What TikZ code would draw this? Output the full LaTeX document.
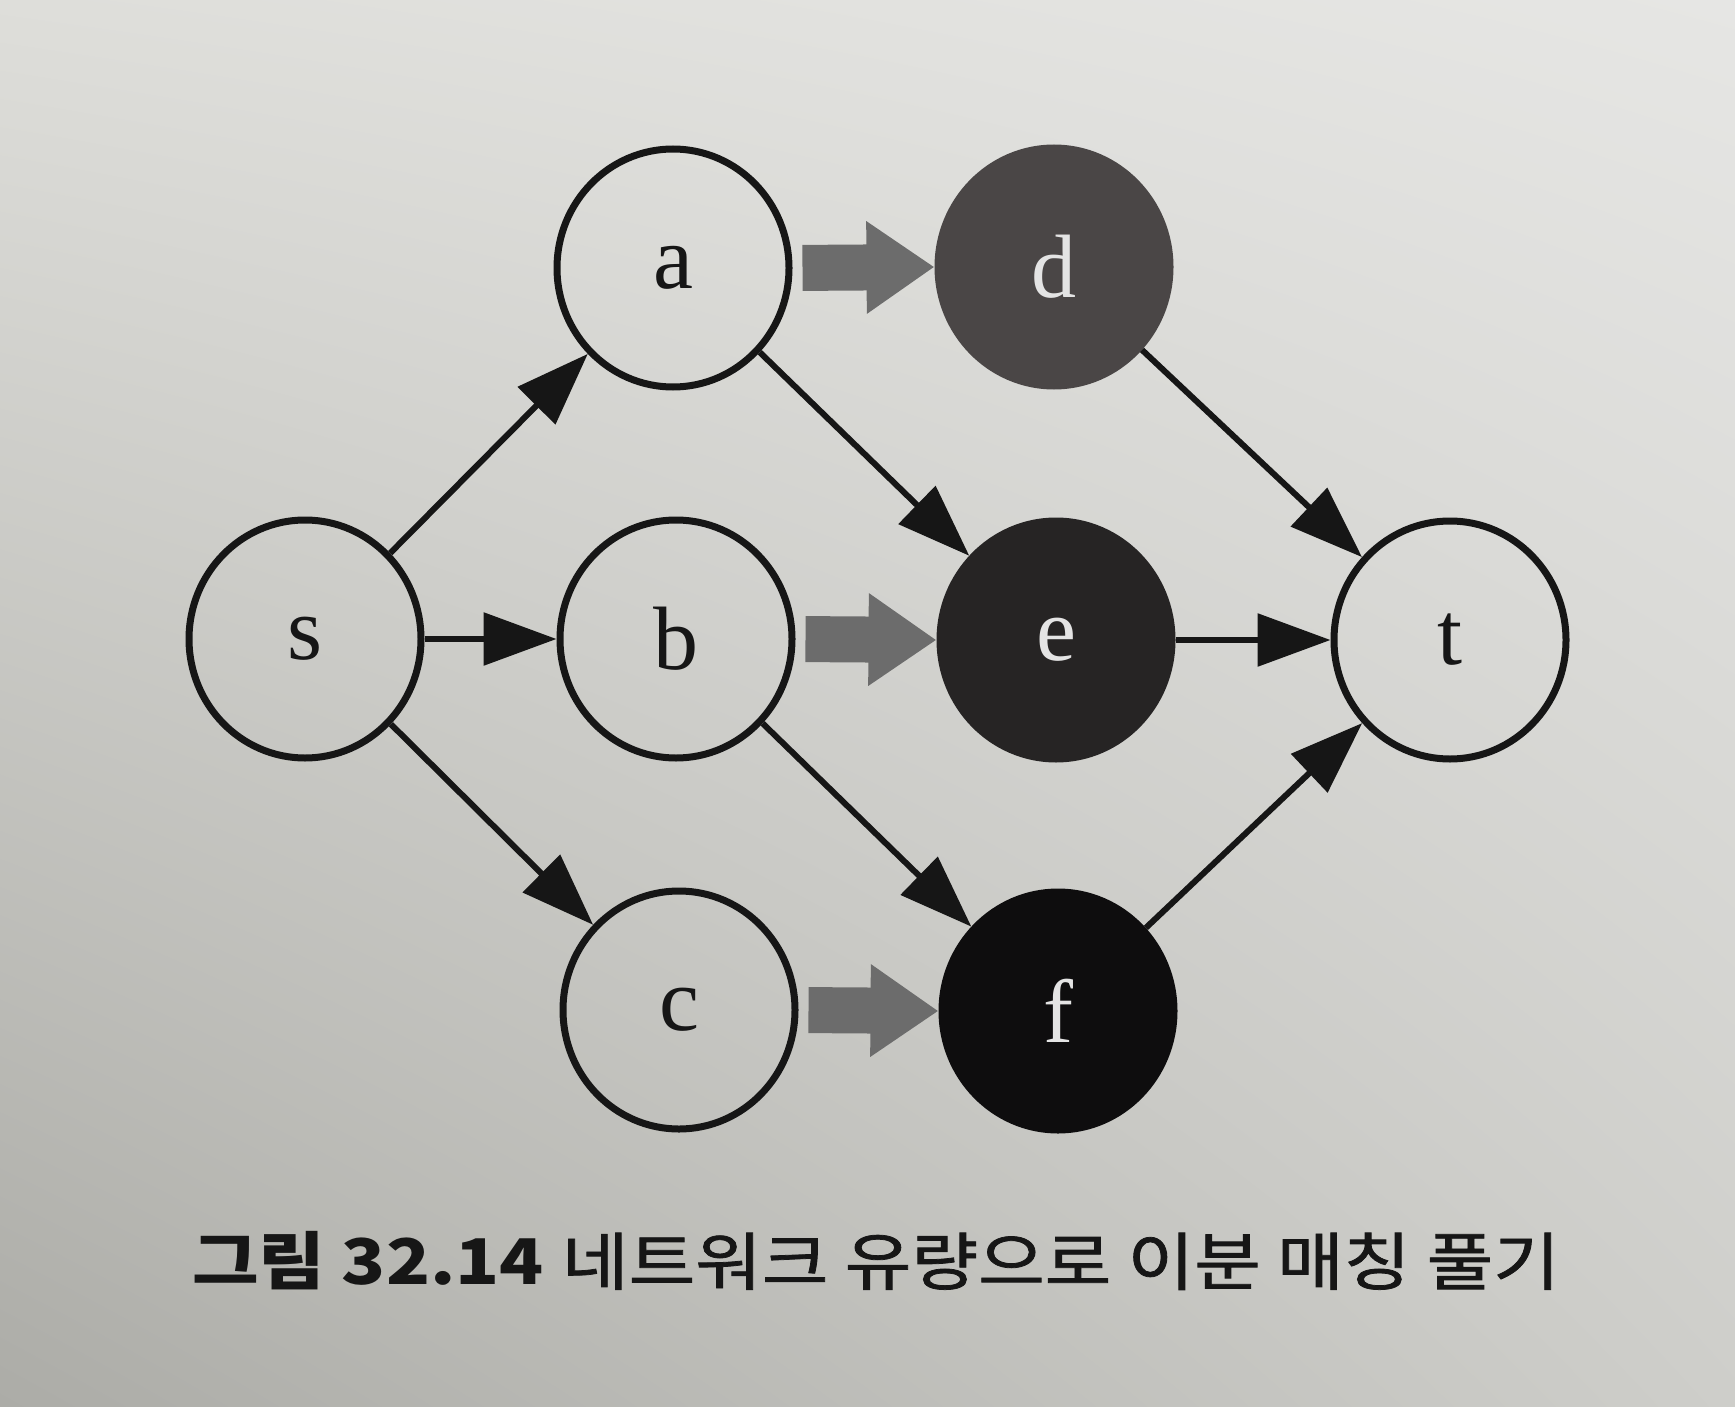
\documentclass[tikz,border=0pt]{standalone}
\usepackage{fontspec}
\setmainfont{Liberation Serif}
\newfontfamily\krfont{Noto Sans CJK KR}
\newfontfamily\krmed{Noto Sans CJK KR}[FakeBold=1.2]
\usetikzlibrary{arrows.meta,shapes.geometric,calc,shadings}
\definecolor{bgul}{RGB}{222,222,218}
\definecolor{bgur}{RGB}{230,230,228}
\definecolor{bgll}{RGB}{172,172,167}
\definecolor{bglr}{RGB}{206,206,202}
\definecolor{ink}{RGB}{22,22,22}
\definecolor{dfill}{RGB}{74,70,70}
\definecolor{efill}{RGB}{38,36,36}
\definecolor{ffill}{RGB}{14,13,14}
\definecolor{fatgray}{RGB}{108,108,108}
\definecolor{lightletter}{RGB}{228,228,228}
\begin{document}
\begin{tikzpicture}[x=1pt,y=-1pt,
  vert/.style={ellipse, draw=ink, line width=7pt, minimum width=232pt, minimum height=238pt, inner sep=0pt, font=\fontsize{90}{100}\selectfont, text=ink},
  darkvert/.style={vert, text=lightletter},
  edge/.style={draw=ink, line width=6pt, -{Triangle[length=73pt,width=52pt]}},
  fat/.style={draw=fatgray, line width=46pt, -{Triangle[length=68pt,width=88pt]}, shorten <=10pt}
]
\shade[upper left=bgul, upper right=bgur, lower left=bgll, lower right=bglr] (0,0) rectangle (1735,1407);
\useasboundingbox (0,0) rectangle (1735,1407);

\node[vert] (s) at (305,639) {s};
\node[vert] (a) at (673,268) {a};
\node[vert] (b) at (676,639) {b};
\node[vert] (c) at (679,1010) {c};
\node[darkvert, fill=dfill, draw=dfill] (d) at (1054,267) {d};
\node[darkvert, fill=efill, draw=efill] (e) at (1056,640) {e};
\node[darkvert, fill=ffill, draw=ffill] (f) at (1058,1011) {f};
\node[vert] (t) at (1450,640) {t};

\draw[edge] (s) -- (a);
\draw[edge] (s) -- (b);
\draw[edge] (s) -- (c);
\draw[edge] (a) -- (e);
\draw[edge] (b) -- (f);
\draw[edge] (d) -- (t);
\draw[edge] (e) -- (t);
\draw[edge] (f) -- (t);

\draw[fat] (a.east) -- (d.west);
\draw[fat] (b.east) -- (e.west);
\draw[fat] (c.east) -- (f.west);

\node[text=ink, inner sep=0pt] (cap) at (876,1261) {\scalebox{1.15}[1]{\fontsize{63}{70}\selectfont{\krfont\textbf{그림 32.14}} {\krmed 네트워크 유량으로 이분 매칭 풀기}}};
\end{tikzpicture}
\end{document}
